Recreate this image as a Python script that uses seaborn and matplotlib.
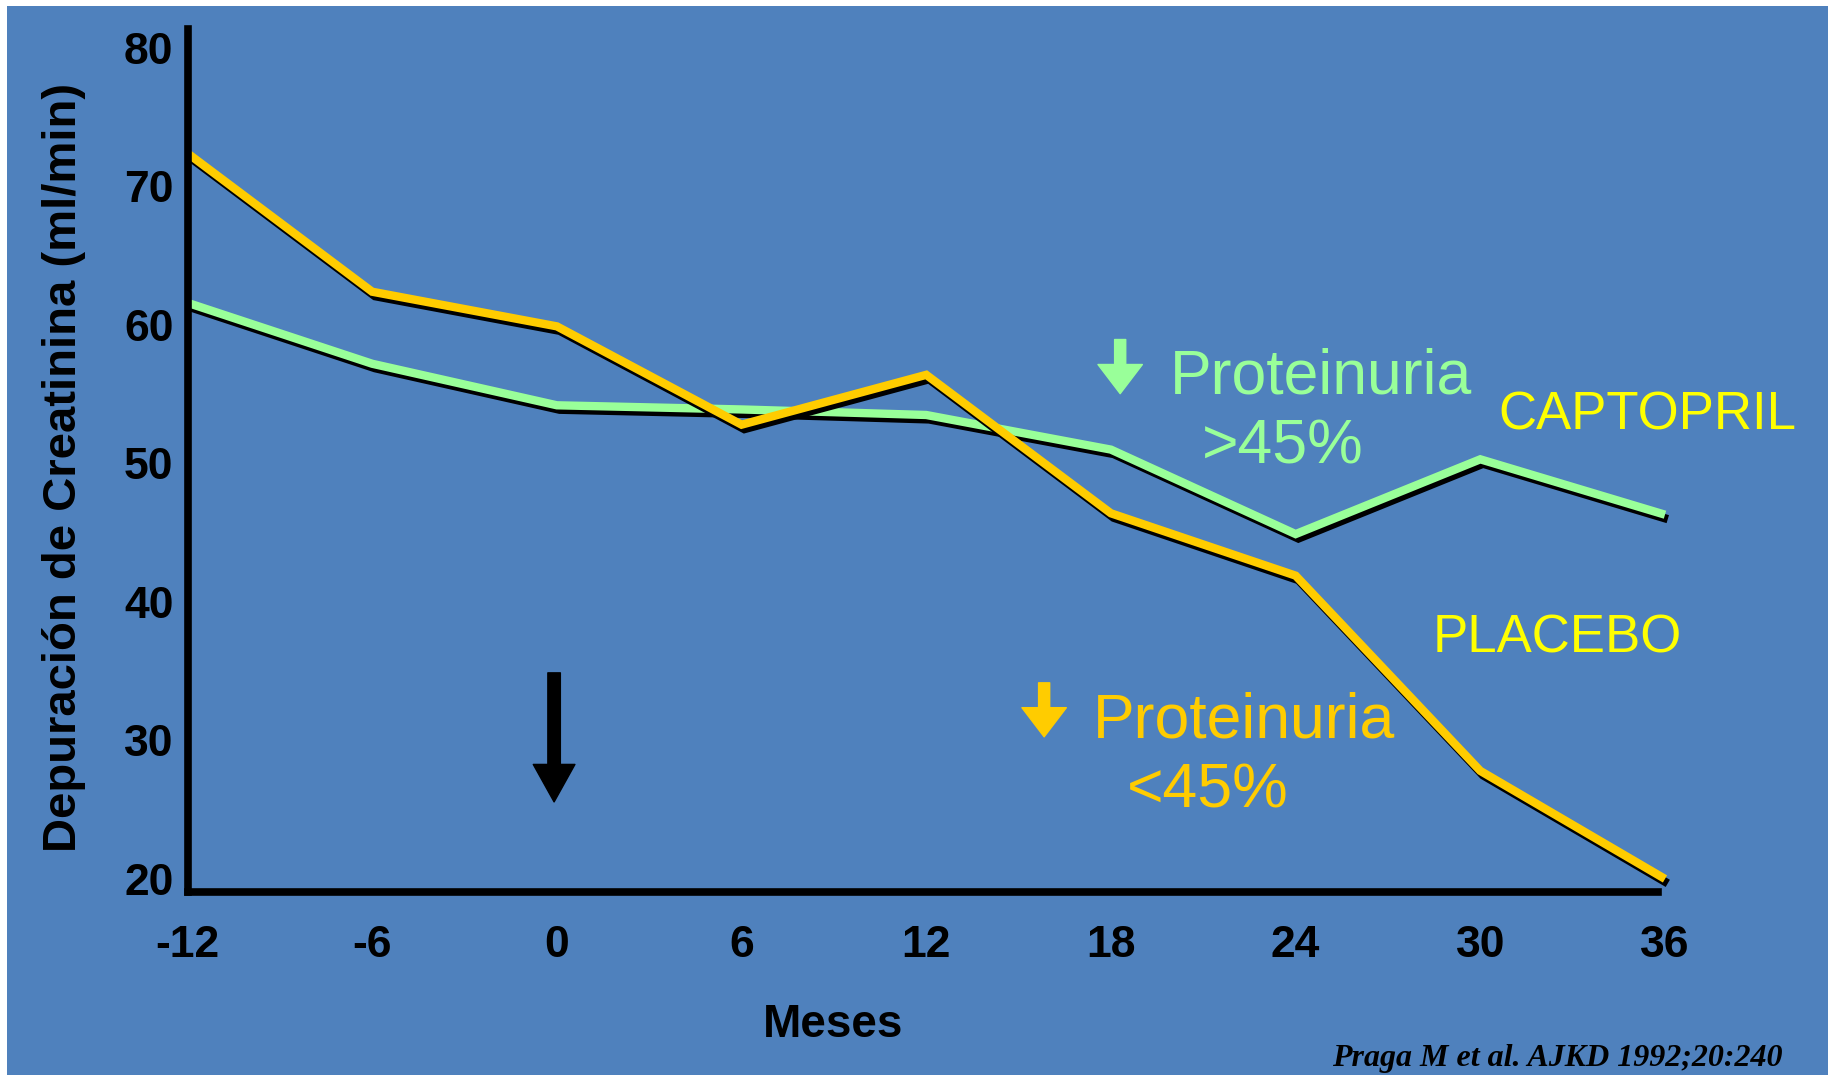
import matplotlib
matplotlib.use("Agg")
import numpy as np
import pandas as pd
import matplotlib.pyplot as plt
import seaborn as sns
from matplotlib import patheffects as pe
from matplotlib.patches import Rectangle

# ---- data ----
months = [-12, -6, 0, 6, 12, 18, 24, 30, 36]
captopril = [61.6, 57.2, 54.2, 53.9, 53.5, 51.0, 44.9, 50.3, 46.3]
placebo = [72.4, 62.4, 59.9, 52.8, 56.4, 46.4, 41.9, 27.8, 20.0]
series_names = ["CAPTOPRIL", "PLACEBO"]
y_ticks = [20, 30, 40, 50, 60, 70, 80]
x_tick_labels = ["-12", "-6", "0", "6", "12", "18", "24", "30", "36"]

BG = "#4F81BD"
GREEN = "#99FF99"
ORANGE = "#FFCC00"
YELLOW = "#FFFF00"

df = pd.DataFrame({
    "Meses": months * 2,
    "valor": captopril + placebo,
    "grupo": [series_names[0]] * len(months) + [series_names[1]] * len(months),
})

sns.set_style("white")
plt.rcParams["font.family"] = ["Liberation Sans", "DejaVu Sans"]

W, H = 1828, 1075
fig = plt.figure(figsize=(W / 100, H / 100), dpi=100, facecolor="white")
fig.patches.append(Rectangle((7.5 / W, 0), 1, 1 - 6 / H, transform=fig.transFigure,
                             facecolor=BG, edgecolor="none", zorder=-10))

ax = fig.add_axes([187.5 / W, 1 - 891.8 / H, (1665 - 187.5) / W, (891.8 - 29.3) / H])
ax.set_facecolor("none")

sns.lineplot(data=df, x="Meses", y="valor", hue="grupo", hue_order=series_names,
             palette=[GREEN, ORANGE], linewidth=6, legend=False, ax=ax,
             errorbar=None, sort=False)
for ln in ax.lines:
    ln.set_clip_on(False)
    ln.set_solid_joinstyle("miter")
    ln.set_solid_capstyle("butt")
    ln.set_path_effects([pe.SimpleLineShadow(offset=(2, -3.2), shadow_color="black", alpha=1.0),
                         pe.Normal()])

ax.set_xticks(months)
ax.set_xticklabels(x_tick_labels)
ax.set_yticks(y_ticks)
ax.set_yticklabels([str(v) for v in y_ticks])
ax.set_xlim(-12, 36)
ax.set_ylim(19.07, 81.35)
ax.tick_params(axis="both", length=0, labelsize=32, labelcolor="black")
ax.tick_params(axis="x", pad=24)
ax.tick_params(axis="y", pad=10)
for lab in ax.get_xticklabels() + ax.get_yticklabels():
    lab.set_fontweight("bold")
ax.set_xlabel("")
ax.set_ylabel("")
sns.despine(ax=ax)
for side in ["left", "bottom"]:
    ax.spines[side].set_color("black")
    ax.spines[side].set_linewidth(5.5)
    ax.spines[side].set_capstyle("projecting")
ax.spines["bottom"].set_bounds(-12, 35.77)

# axis titles
fig.text(63.7 / W, 1 - 467 / H, "Depuración de Creatinina (ml/min)", rotation=90,
         ha="center", va="center", fontsize=34, fontweight="bold", color="black")
fig.text(832.6 / W, 1 - 1037 / H, "Meses", ha="center", va="baseline",
         fontsize=33, fontweight="bold", color="black")

# start-of-treatment arrow
ax.annotate("", xy=(-0.09, 25.56), xytext=(-0.09, 34.88),
            arrowprops=dict(facecolor="black", edgecolor="black", width=9,
                            headwidth=30, headlength=27, shrink=0), annotation_clip=False)

# green annotation
ax.annotate("", xy=(18.30, 55.04), xytext=(18.30, 58.95),
            arrowprops=dict(facecolor=GREEN, edgecolor=GREEN, width=8,
                            headwidth=32, headlength=21, shrink=0), annotation_clip=False)
ax.text(19.92, 55.04, "Proteinuria", color=GREEN, fontsize=45, ha="left", va="baseline")
ax.text(23.59, 49.99, ">45%", color=GREEN, fontsize=45, ha="center", va="baseline")

# orange annotation
ax.annotate("", xy=(15.83, 30.26), xytext=(15.83, 34.16),
            arrowprops=dict(facecolor=ORANGE, edgecolor=ORANGE, width=8,
                            headwidth=32, headlength=21, shrink=0), annotation_clip=False)
ax.text(17.42, 30.19, "Proteinuria", color=ORANGE, fontsize=45, ha="left", va="baseline")
ax.text(21.14, 25.13, "<45%", color=ORANGE, fontsize=45, ha="center", va="baseline")

# series labels
ax.text(35.42, 52.44, series_names[0], color=YELLOW, fontsize=38, ha="center", va="baseline", clip_on=False)
ax.text(32.49, 36.33, series_names[1], color=YELLOW, fontsize=38, ha="center", va="baseline", clip_on=False)

# citation
fig.text(1783 / W, 1 - 1066 / H, "Praga M et al. AJKD 1992;20:240", ha="right", va="baseline",
         family=["Liberation Serif", "DejaVu Serif"], style="italic", fontweight="bold",
         fontsize=23, color="black")

fig.savefig("out.png", dpi=100, facecolor=fig.get_facecolor())
